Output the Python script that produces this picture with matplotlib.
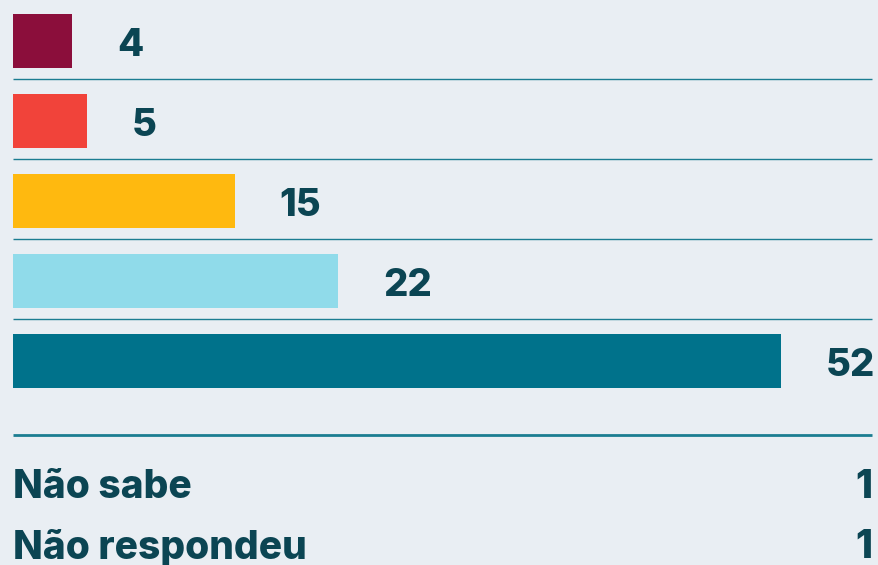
import matplotlib.pyplot as plt
from matplotlib.transforms import offset_copy

# dados
valores = [4, 5, 15, 22, 52]
cores = ['#8B0E3B', '#F1433A', '#FFB90F', '#90DBEA', '#00728B']
outros_rotulos = ['Não sabe', 'Não respondeu']
outros_valores = [1, 1]

FUNDO = '#E9EEF3'
TEXTO = '#0B4553'
LINHA = '#1B7D91'

plt.rcParams['font.family'] = ['Inter', 'DejaVu Sans']

fig = plt.figure(figsize=(8.79, 5.65), dpi=100)
fig.patch.set_facecolor(FUNDO)
ax = fig.add_axes([0, 0, 1, 1])
ax.set_facecolor(FUNDO)

# escala: 0 em 13 px, ~14.77 px por unidade; categorias a cada 80 px
px_x = 14.77
ax.set_xlim(-13 / px_x, (879 - 13) / px_x)
ax.set_ylim((565 - 41) / 80, -41 / 80)
ax.axis('off')

y = list(range(len(valores)))
ax.barh(y, valores, height=0.675, color=cores, left=0)

fim = (872 - 13) / px_x
for i, v in enumerate(valores):
    tr = offset_copy(ax.transData, fig=fig, x=45, y=-5, units='dots')
    ax.text(v, i, str(v), transform=tr, ha='left', va='center',
            fontsize=27.5, fontweight='heavy', color=TEXTO)
    if i < len(valores) - 1:
        ax.plot([0, fim], [i + 0.48, i + 0.48], color=LINHA, lw=1,
                solid_capstyle='butt')

ax.plot([0, fim], [(435 - 41) / 80] * 2, color=LINHA, lw=2,
        solid_capstyle='butt')

for j, (rot, v) in enumerate(zip(outros_rotulos, outros_valores)):
    yy = (487 + 61 * j - 41) / 80
    ax.text(0, yy, rot, ha='left', va='center', fontsize=28,
            fontweight='heavy', color=TEXTO)
    ax.text(fim, yy, str(v), ha='right', va='center', fontsize=28,
            fontweight='heavy', color=TEXTO)

fig.savefig('out.png', dpi=100, facecolor=FUNDO)
